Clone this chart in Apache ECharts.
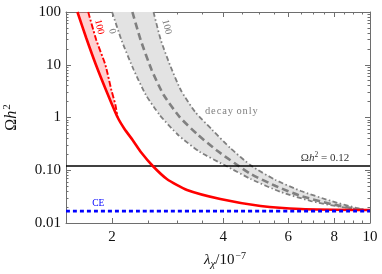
<!DOCTYPE html>
<html><head><meta charset="utf-8">
<script src="https://cdn.jsdelivr.net/npm/echarts@6/dist/echarts.min.js"></script>
<style>html,body{margin:0;padding:0;background:#fff}#c{width:382px;height:274px}</style>
</head><body><div id="c"></div>
<script>
// ---- data ----
const xMajorTicks = [2, 4, 6, 8, 10];
const xMinorTicks = [1.5, 2.5, 3, 3.5, 4.5, 5, 5.5, 6.5, 7, 7.5, 8.5, 9, 9.5];
const yMajorTicks = [0.01, 0.1, 1, 10, 100];
const yMinorTicks = [0.02,0.03,0.04,0.05,0.06,0.07,0.08,0.09,0.2,0.3,0.4,0.5,0.6,0.7,0.8,0.9,2,3,4,5,6,7,8,9,20,30,40,50,60,70,80,90];
const omegaObserved = 0.12;
const omegaCE = 0.0168;
const lambdaRange = [1.5, 10];
const redSolid = [[1.611,100],[1.702,32.2],[1.809,9.89],[1.930,3.18],[2.068,1.02],[2.161,0.605],[2.273,0.375],[2.405,0.212],[2.578,0.1204],[2.814,0.0683],[3.192,0.0422],[3.929,0.0285],[5.051,0.0210],[6.50,0.0184],[10,0.0176]];
const redDashDot = [[1.723,100],[1.812,29.5],[1.918,9.89],[1.991,3.32],[2.042,1.726],[2.068,1.02]];
const decayLow = [[2.00,100],[2.12,29.5],[2.29,7.95],[2.47,2.67],[2.69,1.12],[3.02,0.466],[3.46,0.222],[4.08,0.120],[4.75,0.0683],[5.73,0.0387],[6.92,0.0261],[8.36,0.0201],[9.78,0.0176]];
const decayMid = [[2.27,100],[2.39,29.5],[2.56,7.95],[2.76,2.67],[3.05,1.02],[3.42,0.466],[3.83,0.242],[4.29,0.137],[4.75,0.0849],[5.55,0.0503],[6.50,0.0325],[7.85,0.0229],[9.19,0.0184],[9.84,0.0176]];
const decayHigh = [[2.59,100],[2.71,29.5],[2.87,9.89],[3.07,3.32],[3.36,1.27],[3.74,0.579],[4.18,0.264],[4.78,0.120],[5.55,0.0654],[6.50,0.0404],[7.85,0.0261],[9.19,0.0193],[9.84,0.0176]];

// ---- style ----
const FONT = '"Liberation Serif", "DejaVu Serif", serif';
const AX = '#6e6e6e';
const GRAY = '#808080';

function xAx(pos, ticks, len, showLine, labels, extra) {
  return Object.assign({
    type: 'log', logBase: 10, min: lambdaRange[0], max: lambdaRange[1], position: pos,
    axisLine: {show: showLine, onZero: false, lineStyle: {color: AX, width: 1}},
    axisTick: {show: true, inside: true, length: len, customValues: ticks, lineStyle: {color: AX, width: 1}},
    axisLabel: labels ? {show: true, customValues: ticks, margin: 7, color: '#111', fontFamily: FONT, fontSize: 15} : {show: false},
    splitLine: {show: false}, minorTick: {show: false}
  }, extra || {});
}
function yAx(pos, ticks, len, showLine, labels, extra) {
  return Object.assign({
    type: 'log', logBase: 10, min: 0.01, max: 100, position: pos,
    axisLine: {show: showLine, onZero: false, lineStyle: {color: AX, width: 1}},
    axisTick: {show: true, inside: true, length: len, customValues: ticks, lineStyle: {color: AX, width: 1}},
    axisLabel: labels ? {show: true, customValues: ticks, margin: 5, color: '#111', fontFamily: FONT, fontSize: 15,
      formatter: v => (Math.abs(v - 0.1) < 1e-9 ? '0.10' : Math.abs(v - 0.01) < 1e-9 ? '0.01' : String(Math.round(v)))} : {show: false},
    splitLine: {show: false}, minorTick: {show: false}
  }, extra || {});
}

function band(a, b, color) {
  return {
    type: 'custom', coordinateSystem: 'cartesian2d', xAxisIndex: 0, yAxisIndex: 0, silent: true, z: 1,
    data: [[2, 1]],
    renderItem: (params, api) => {
      const pts = a.concat(b.slice().reverse()).map(p => api.coord(p));
      return {type: 'polygon', shape: {points: pts}, style: {fill: color, stroke: null}};
    }
  };
}
function line(data, color, width, type, z) {
  return {type: 'line', xAxisIndex: 0, yAxisIndex: 0, data: data, showSymbol: false, symbol: 'none', smooth: 0.2,
    silent: true, z: z || 3, lineStyle: {color: color, width: width, type: type}, clip: true};
}

const chart = echarts.init(document.getElementById('c'), null, {renderer: 'canvas'});
const option = {
  animation: false,
  backgroundColor: '#fff',
  grid: {left: 66, right: 12, top: 12, bottom: 51, containLabel: false, outerBoundsMode: 'none'},
  xAxis: [
    xAx('bottom', xMajorTicks, 5, true, true, {
      name: '{l|λ}{s|χ}{n|/10}{p|−7}', nameLocation: 'middle', nameGap: 28,
      nameTextStyle: {fontFamily: FONT, fontSize: 15, color: '#111', padding: [0, 0, 0, 14],
        rich: {l: {fontFamily: FONT, fontSize: 15, fontStyle: 'italic', color: '#111'},
               s: {fontFamily: FONT, fontSize: 11, fontStyle: 'italic', color: '#111', padding: [8, 0, 0, 0]},
               n: {fontFamily: FONT, fontSize: 15, color: '#111'},
               p: {fontFamily: FONT, fontSize: 10, color: '#111', padding: [0, 0, 9, 1]}}}
    }),
    xAx('bottom', xMinorTicks, 2.5, false, false),
    xAx('top', xMajorTicks, 5, true, false),
    xAx('top', xMinorTicks, 2.5, false, false)
  ],
  yAxis: [
    yAx('left', yMajorTicks, 5, true, true, {
      name: '{o|Ω}{i|h}{p|2}', nameLocation: 'middle', nameGap: 44, nameRotate: 90,
      nameTextStyle: {fontFamily: FONT, fontSize: 16, color: '#111',
        rich: {o: {fontFamily: FONT, fontSize: 16, color: '#111'},
               i: {fontFamily: FONT, fontSize: 16, fontStyle: 'italic', color: '#111'},
               p: {fontFamily: FONT, fontSize: 11, color: '#111', padding: [0, 0, 9, 1]}}}
    }),
    yAx('left', yMinorTicks, 2.5, false, false),
    yAx('right', yMajorTicks, 5, true, false),
    yAx('right', yMinorTicks, 2.5, false, false)
  ],
  series: [
    band(decayLow, decayHigh, '#e3e3e3'),
    band(redDashDot, redSolid.filter(p => p[1] >= 1.02), 'rgba(255,120,120,0.35)'),
    line(decayLow, GRAY, 1.8, [5, 2.5, 1.5, 2.5], 3),
    line(decayHigh, GRAY, 1.8, [5, 2.5, 1.5, 2.5], 3),
    line(decayMid, GRAY, 2.6, [7, 4], 3),
    line(redDashDot, '#ff0000', 1.9, [6, 2, 2, 2], 4),
    line([[lambdaRange[0], omegaObserved], [lambdaRange[1], omegaObserved]], '#000', 1.5, 'solid', 5),
    line(redSolid, '#ff0000', 2.6, 'solid', 6),
    line([[lambdaRange[0], omegaCE], [lambdaRange[1], omegaCE]], '#0000ff', 2.6, [4, 3], 7)
  ]
};
chart.setOption(option);

const px = p => chart.convertToPixel({gridIndex: 0}, p);
function txt(pt, text, color, size, rot, rich) {
  const q = px(pt);
  return {type: 'text', x: q[0], y: q[1], rotation: rot || 0, z: 20, silent: true,
    style: {text: text, fill: color, fontFamily: FONT, fontSize: size, align: 'center', verticalAlign: 'middle', rich: rich}};
}
chart.setOption({graphic: [
  txt([1.846, 52], '100', '#ff0000', 10, -1.33),
  txt([2.00, 43], '0', GRAY, 10, -1.33),
  txt([2.81, 52], '100', GRAY, 10, -1.33),
  txt([4.21, 1.33], 'd e c a y  o n l y'.replace(/ (?! )/g, '\u200a').replace(/  /g, ' '), GRAY, 10.5, 0),
  txt([7.55, 0.17], 'Ω{i|h}{p|2} = 0.12', '#333', 11, 0,
      {i: {fontStyle: 'italic', fontFamily: FONT, fontSize: 11, fill: '#333'}, p: {fontSize: 7.5, fontFamily: FONT, fill: '#333', padding: [0, 0, 6, 0]}}),
  txt([1.835, 0.0239], 'CE', '#0000ff', 9.5, 0)
]});
</script>
</body></html>
